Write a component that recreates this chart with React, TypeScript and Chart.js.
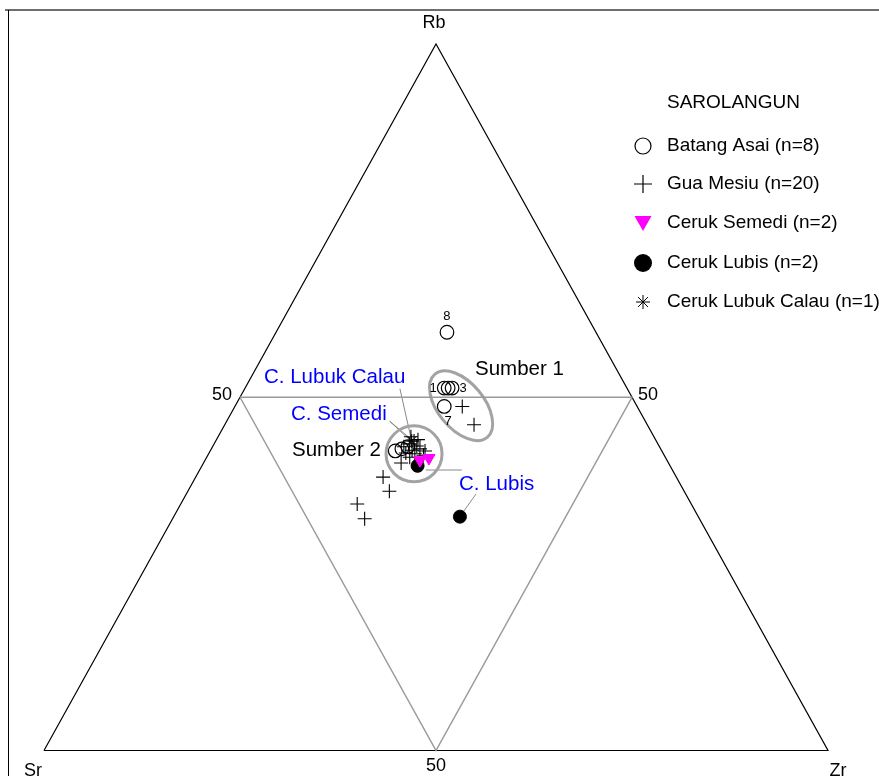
import React, { useEffect, useRef } from 'react';
import { Chart, registerables } from 'chart.js';

Chart.register(...registerables);

const W = 879;
const H = 776;

// Ternary compositions [Rb, Sr, Zr] (%)
const BATANG_ASAI: number[][] = [
  [51.3, 23.3, 25.4], // 1
  [51.3, 22.8, 25.9], // 2
  [51.3, 22.3, 26.4], // 3
  [48.7, 24.6, 26.7], // 7
  [59.2, 19.0, 21.8], // 8
  [42.4, 34.0, 23.6],
  [42.7, 33.0, 24.3],
  [43.0, 32.1, 24.9],
];
const BATANG_ASAI_LABELS = ['1', '', '3', '7', '8', '', '', ''];

const GUA_MESIU: number[][] = [
  [48.7, 22.3, 29.0],
  [46.1, 22.1, 31.8],
  [38.7, 37.4, 23.9],
  [36.7, 37.6, 25.7],
  [34.9, 42.6, 22.5],
  [32.8, 42.7, 24.5],
  [40.7, 34.1, 25.2],
  [44.4, 31.0, 24.6],
  [43.8, 30.9, 25.3],
  [43.4, 31.7, 24.9],
  [43.1, 30.9, 26.0],
  [42.5, 31.8, 25.7],
  [42.7, 30.7, 26.6],
  [42.1, 32.8, 25.1],
  [42.0, 31.7, 26.3],
  [41.8, 30.7, 27.5],
  [41.5, 32.6, 25.9],
  [44.0, 30.3, 25.7],
  [42.4, 30.2, 27.4],
  [43.0, 32.6, 24.4],
];

const CERUK_SEMEDI: number[][] = [
  [41.1, 31.5, 27.4],
  [41.4, 30.2, 28.4],
];

const CERUK_LUBIS: number[][] = [
  [40.3, 32.2, 27.5],
  [33.1, 30.4, 36.5],
];

const CERUK_LUBUK_CALAU: number[][] = [[43.8, 31.2, 25.0]];

const OUTER_TRIANGLE: number[][] = [
  [0, 100, 0],
  [0, 0, 100],
  [100, 0, 0],
  [0, 100, 0],
];
const INNER_TRIANGLE: number[][] = [
  [50, 50, 0],
  [50, 0, 50],
  [0, 50, 50],
  [50, 50, 0],
];

const LEGEND_TITLE = 'SAROLANGUN';
const LEGEND_LABELS = [
  'Batang Asai (n=8)',
  'Gua Mesiu (n=20)',
  'Ceruk Semedi (n=2)',
  'Ceruk Lubis (n=2)',
  'Ceruk Lubuk Calau (n=1)',
];

// Group ellipses: centre as [Rb, Sr, Zr]
const SUMBER_1_CENTER = [48.8, 22.4, 28.8];
const SUMBER_2_CENTER = [42.0, 31.8, 26.2];

// Leader lines in plot units (x, y)
const LEADERS: number[][][] = [
  [[45.4, 51.2], [46.9, 43.8]],
  [[44.1, 46.6], [47.1, 43.8]],
  [[44.1, 46.6], [47.6, 43.0]],
  [[48.7, 39.7], [53.3, 39.7]],
  [[55.1, 36.3], [53.3, 33.5]],
];

const toXY = (t: number[]) => {
  const [rb, sr, zr] = t;
  const s = rb + sr + zr;
  return { x: ((zr + rb / 2) / s) * 100, y: (rb / s) * 100 };
};

const FONT = "'Liberation Sans', Arial, sans-serif";
const NARROW = "'Liberation Sans Narrow', 'Liberation Sans', Arial, sans-serif";

const overlay = {
  id: 'overlay',
  beforeDraw(chart: any) {
    const ctx = chart.ctx;
    ctx.save();
    ctx.fillStyle = '#fff';
    ctx.fillRect(0, 0, W, H);
    ctx.strokeStyle = '#6e6e6e';
    ctx.lineWidth = 2;
    ctx.beginPath();
    ctx.moveTo(5, 10);
    ctx.lineTo(W, 10);
    ctx.stroke();
    ctx.strokeStyle = '#000';
    ctx.lineWidth = 1;
    ctx.beginPath();
    ctx.moveTo(8.5, 10);
    ctx.lineTo(8.5, H);
    ctx.stroke();
    ctx.restore();
  },
  beforeDatasetsDraw(chart: any) {
    const ctx = chart.ctx;
    const xs = chart.scales.x;
    const ys = chart.scales.y;
    const px = (p: { x: number; y: number }) => [xs.getPixelForValue(p.x), ys.getPixelForValue(p.y)];
    ctx.save();
    ctx.strokeStyle = '#8a8a8a';
    ctx.lineWidth = 1;
    for (const [a, b] of LEADERS) {
      ctx.beginPath();
      ctx.moveTo(xs.getPixelForValue(a[0]), ys.getPixelForValue(a[1]));
      ctx.lineTo(xs.getPixelForValue(b[0]), ys.getPixelForValue(b[1]));
      ctx.stroke();
    }
    ctx.strokeStyle = '#a3a3a3';
    ctx.lineWidth = 3;
    const [c1x, c1y] = px(toXY(SUMBER_1_CENTER));
    ctx.beginPath();
    ctx.ellipse(c1x, c1y, 41, 23, 0.88, 0, Math.PI * 2);
    ctx.stroke();
    const [c2x, c2y] = px(toXY(SUMBER_2_CENTER));
    ctx.beginPath();
    ctx.ellipse(c2x, c2y, 28, 28, 0, 0, Math.PI * 2);
    ctx.stroke();
    ctx.restore();
  },
  afterDraw(chart: any) {
    const ctx = chart.ctx;
    const xs = chart.scales.x;
    const ys = chart.scales.y;
    ctx.save();
    ctx.textBaseline = 'middle';
    ctx.fillStyle = '#000';
    ctx.font = `18px ${NARROW}`;
    ctx.textAlign = 'center';
    ctx.fillText('Rb', 434, 23);
    ctx.fillText('Sr', 33, 771);
    ctx.fillText('Zr', 838, 771);
    ctx.fillText('50', 436, 766);
    ctx.fillText('50', 222, 395);
    ctx.fillText('50', 648, 395);
    ctx.font = `13px ${FONT}`;
    const offsets: Record<string, number[]> = { '1': [-11, 0], '3': [11, 0], '7': [4, 15], '8': [0, -16] };
    BATANG_ASAI.forEach((t, i) => {
      const lab = BATANG_ASAI_LABELS[i];
      if (!lab) return;
      const p = toXY(t);
      const o = offsets[lab];
      ctx.fillText(lab, xs.getPixelForValue(p.x) + o[0], ys.getPixelForValue(p.y) + o[1]);
    });
    ctx.textAlign = 'left';
    ctx.font = `20.5px ${FONT}`;
    ctx.fillStyle = '#000';
    ctx.fillText('Sumber 1', 475, 369);
    ctx.fillText('Sumber 2', 292, 450);
    ctx.fillStyle = '#0000ff';
    ctx.fillText('C. Lubuk Calau', 264, 377);
    ctx.fillText('C. Semedi', 291, 414);
    ctx.fillText('C. Lubis', 459, 484);
    ctx.fillStyle = '#000';
    ctx.font = `19px ${FONT}`;
    ctx.fillText(LEGEND_TITLE, 667, 103);
    const ly = [146, 184, 223, 263, 302];
    const mx = 643;
    LEGEND_LABELS.forEach((lab, i) => {
      ctx.fillText(lab, 667, ly[i]);
    });
    ctx.strokeStyle = '#000';
    ctx.lineWidth = 1.2;
    ctx.beginPath();
    ctx.arc(mx, ly[0], 8, 0, Math.PI * 2);
    ctx.stroke();
    ctx.beginPath();
    ctx.moveTo(mx - 9, ly[1]);
    ctx.lineTo(mx + 9, ly[1]);
    ctx.moveTo(mx, ly[1] - 9);
    ctx.lineTo(mx, ly[1] + 9);
    ctx.stroke();
    ctx.fillStyle = '#ff00ff';
    ctx.beginPath();
    ctx.moveTo(mx - 8.5, ly[2] - 7);
    ctx.lineTo(mx + 8.5, ly[2] - 7);
    ctx.lineTo(mx, ly[2] + 8);
    ctx.closePath();
    ctx.fill();
    ctx.fillStyle = '#000';
    ctx.beginPath();
    ctx.arc(mx, ly[3], 9, 0, Math.PI * 2);
    ctx.fill();
    ctx.lineWidth = 1;
    ctx.beginPath();
    for (const a of [0, 45, 90, 135]) {
      const r = (a * Math.PI) / 180;
      ctx.moveTo(mx + Math.cos(r) * 7, ly[4] - Math.sin(r) * 7);
      ctx.lineTo(mx - Math.cos(r) * 7, ly[4] + Math.sin(r) * 7);
    }
    ctx.stroke();
    ctx.restore();
  },
};

export default function App() {
  const ref = useRef<HTMLCanvasElement>(null);
  useEffect(() => {
    if (!ref.current) return;
    const chart = new Chart(ref.current, {
      type: 'scatter',
      data: {
        datasets: [
          {
            label: 'Ceruk Lubuk Calau',
            data: CERUK_LUBUK_CALAU.map(toXY),
            pointStyle: 'star',
            pointRadius: 7,
            borderColor: '#000',
            borderWidth: 1,
            order: 1,
          },
          {
            label: 'Ceruk Semedi',
            data: CERUK_SEMEDI.map(toXY),
            pointStyle: 'triangle',
            rotation: 180,
            pointRadius: 7,
            backgroundColor: '#ff00ff',
            borderColor: '#ff00ff',
            borderWidth: 1,
            order: 2,
          },
          {
            label: 'Ceruk Lubis',
            data: CERUK_LUBIS.map(toXY),
            pointStyle: 'circle',
            pointRadius: 6.5,
            backgroundColor: '#000',
            borderColor: '#000',
            borderWidth: 1,
            order: 3,
          },
          {
            label: 'Gua Mesiu',
            data: GUA_MESIU.map(toXY),
            pointStyle: 'cross',
            pointRadius: 7,
            borderColor: '#000',
            borderWidth: 1.1,
            order: 4,
          },
          {
            label: 'Batang Asai',
            data: BATANG_ASAI.map(toXY),
            pointStyle: 'circle',
            pointRadius: 6.8,
            backgroundColor: 'rgba(0,0,0,0)',
            borderColor: '#000',
            borderWidth: 1.2,
            order: 5,
          },
          {
            label: 'inner',
            data: INNER_TRIANGLE.map(toXY),
            showLine: true,
            pointRadius: 0,
            borderColor: '#9a9a9a',
            borderWidth: 1.5,
            order: 10,
          },
          {
            label: 'outer',
            data: OUTER_TRIANGLE.map(toXY),
            showLine: true,
            pointRadius: 0,
            borderColor: '#000',
            borderWidth: 1.2,
            order: 11,
          },
        ],
      },
      options: {
        animation: false,
        responsive: false,
        events: [],
        layout: { padding: 0, autoPadding: false },
        plugins: { legend: { display: false }, tooltip: { enabled: false } },
        scales: {
          x: { type: 'linear', display: false, min: -5.612, max: 106.505 },
          y: { type: 'linear', display: false, min: -3.609, max: 106.228 },
        },
      },
      plugins: [overlay],
    });
    return () => chart.destroy();
  }, []);
  return (
    <div style={{ position: 'absolute', left: 0, top: 0, width: W, height: H }}>
      <canvas ref={ref} width={W} height={H} style={{ width: W, height: H, display: 'block' }} />
    </div>
  );
}
